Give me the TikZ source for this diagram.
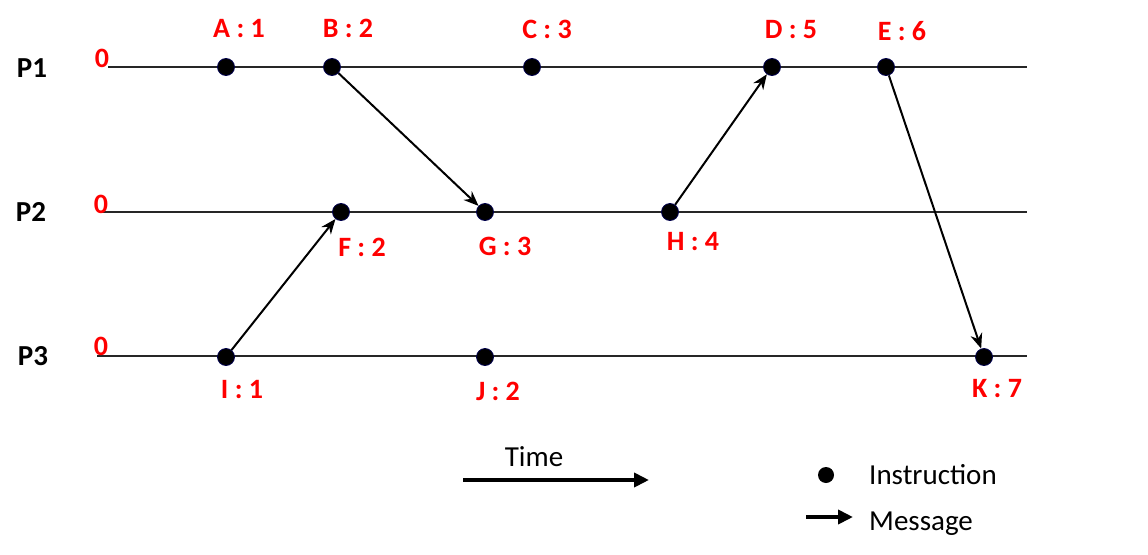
\documentclass[tikz,border=0pt]{standalone}
\usepackage{fontspec}
\setmainfont{Carlito}
\usetikzlibrary{arrows.meta}
\definecolor{lblred}{RGB}{255,0,0}
\begin{document}
\begin{tikzpicture}[x=1pt,y=-1pt,
  evt/.style={circle,fill=black,draw=black!70!blue,line width=0.8pt,minimum size=17pt,inner sep=0pt},
  tl/.style={line width=2.4pt,draw=black!85},
  msg/.style={line width=2pt,-{Stealth[length=15pt,width=12pt]}},
  lab/.style={text=lblred,font=\fontsize{28}{28}\selectfont\bfseries,anchor=base,inner sep=0pt},
  proc/.style={font=\fontsize{29}{29}\selectfont\bfseries,anchor=base,inner sep=0pt},
  leg/.style={font=\fontsize{29}{29}\selectfont,inner sep=0pt}]
\useasboundingbox (0,0) rectangle (1148,554);
% timelines
\coordinate (p1s) at (108,67); \coordinate (p1e) at (1027,67);
\coordinate (p2s) at (100,212); \coordinate (p2e) at (1027,212);
\coordinate (p3s) at (97,356); \coordinate (p3e) at (1027,356);
\draw[tl] (p1s) -- (p1e);
\draw[tl] (p2s) -- (p2e);
\draw[tl] (p3s) -- (p3e);
% process labels
\node[proc] (P1) at (32,77) {P1};
\node[proc] (P2) at (31,221) {P2};
\node[proc] (P3) at (33,365) {P3};
\node[lab] (z1) at (102,67) {0};
\node[lab] (z2) at (101,213) {0};
\node[lab] (z3) at (101,355) {0};
% events
\node[evt] (A) at (226,67) {};
\node[evt] (B) at (332,67) {};
\node[evt] (C) at (532,67) {};
\node[evt] (D) at (772,67) {};
\node[evt] (E) at (886,67) {};
\node[evt] (F) at (341,212) {};
\node[evt] (G) at (485,212) {};
\node[evt] (H) at (670,212) {};
\node[evt] (I) at (226,357) {};
\node[evt] (J) at (485,357) {};
\node[evt] (K) at (984,357) {};
% event labels
\node[lab] (lA) at (239,37) {A : 1};
\node[lab] (lB) at (348,37) {B : 2};
\node[lab] (lC) at (547,38) {C : 3};
\node[lab] (lD) at (791,38) {D : 5};
\node[lab] (lE) at (902,40) {E : 6};
\node[lab] (lF) at (362,256) {F : 2};
\node[lab] (lG) at (505,255) {G : 3};
\node[lab] (lH) at (693,250) {H : 4};
\node[lab] (lI) at (242,398) {I : 1};
\node[lab] (lJ) at (498,400) {J : 2};
\node[lab] (lK) at (997,397) {K : 7};
% messages
\draw[msg] (B) -- (G);
\draw[msg] (I) -- (F);
\draw[msg] (H) -- (D);
\draw[msg] (E) -- (K);
% time arrow
\coordinate (t0) at (463,480); \coordinate (t1) at (649,480);
\draw[line width=4pt,-{Stealth[length=15pt,width=14pt,inset=0pt]}] (t0) -- (t1);
\node[leg,anchor=base] (time) at (534,466) {Time};
% legend
\node[circle,fill=black,minimum size=16pt,inner sep=0pt] (ldot) at (826,475) {};
\node[leg,anchor=base west] (linstr) at (869,484) {Instruction};
\coordinate (m0) at (806,517); \coordinate (m1) at (853,517);
\draw[line width=4pt,-{Stealth[length=15pt,width=14pt,inset=0pt]}] (m0) -- (m1);
\node[leg,anchor=base west] (lmsg) at (869,530) {Message};
\end{tikzpicture}
\end{document}
